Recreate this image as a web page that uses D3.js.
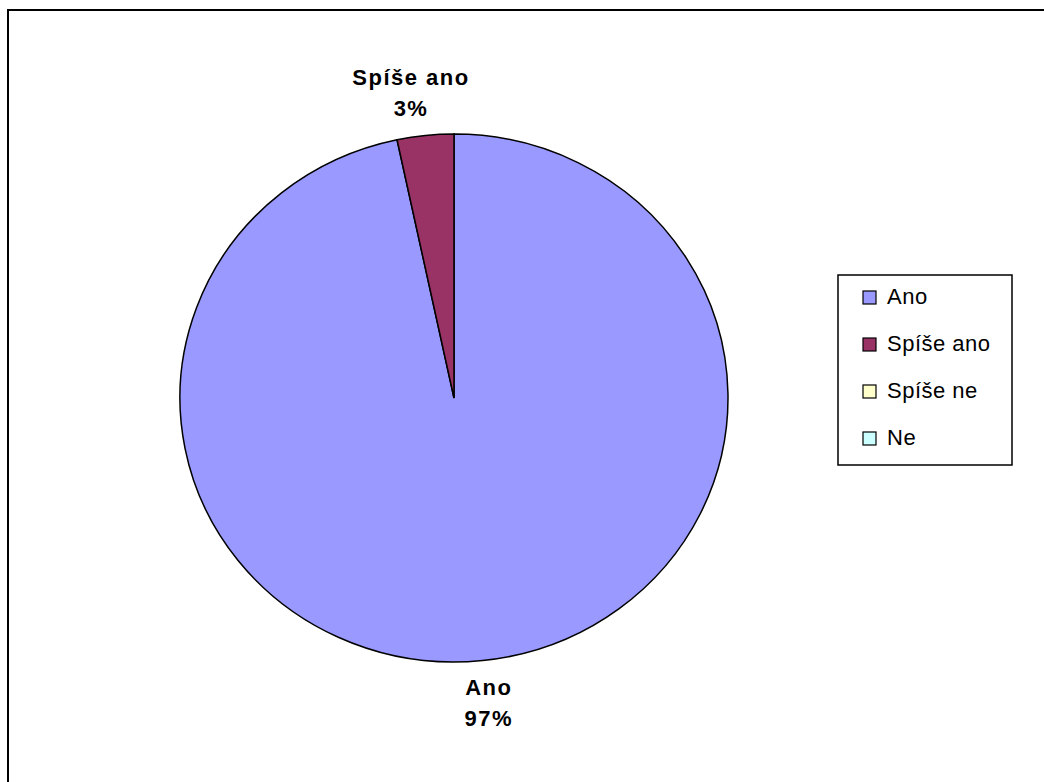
<!DOCTYPE html>
<html>
<head>
<meta charset="utf-8">
<script src="https://cdn.jsdelivr.net/npm/d3@7"></script>
<style>
  body { margin: 0; background: #fff; }
  svg { display: block; font-family: "Liberation Sans", Arial, sans-serif; }
</style>
</head>
<body>
<svg id="chart" width="1044" height="782"></svg>
<script>
// answers (counts): 29 vs 1 -> 97% / 3%
const categories = ['Ano', 'Spíše ano', 'Spíše ne', 'Ne'];
const counts = [29, 1, 0, 0];
const colors = ['#9999FF', '#993366', '#FFFFCC', '#CCFFFF'];

const W = 1044, H = 782;
const cx = 454, cy = 398, rx = 274, ry = 264;

const svg = d3.select('#chart');

// outer frame (only top/left edges fall inside the picture)
svg.append('rect')
    .attr('x', 8).attr('y', 10)
    .attr('width', W + 20).attr('height', H + 20)
    .attr('fill', 'none').attr('stroke', '#000').attr('stroke-width', 2);

const data = categories.map((c, i) => ({ name: c, value: counts[i], color: colors[i] }));
const total = d3.sum(counts);

const pie = d3.pie().sort(null).value(d => d.value);
const arcs = pie(data);
const arc = d3.arc().innerRadius(0).outerRadius(rx);

// excel pies come out slightly squashed, so scale y
const g = svg.append('g')
    .attr('transform', `translate(${cx},${cy}) scale(1,${ry / rx})`);

g.selectAll('path')
  .data(arcs.filter(d => d.value > 0))
  .join('path')
    .attr('d', arc)
    .attr('fill', d => d.data.color)
    .attr('stroke', '#000')
    .attr('stroke-width', 1.5)
    .attr('vector-effect', 'non-scaling-stroke');

// data labels outside the slices
const off = 20, lineGap = 31;
const labels = svg.append('g')
  .selectAll('text')
  .data(arcs.filter(d => d.value > 0))
  .join('text')
    .attr('text-anchor', 'middle')
    .attr('font-size', 22)
    .attr('font-weight', 'bold')
    .attr('letter-spacing', 1.5)
    .attr('fill', '#000');

labels.each(function(d) {
  const el = d3.select(this);
  const a = (d.startAngle + d.endAngle) / 2;
  const pct = Math.round(d.value / total * 100) + '%';
  const w = Math.max(d.data.name.length, pct.length) * 13, h = 46;
  const px = cx + Math.sin(a) * (rx + off);
  const py = cy - Math.cos(a) * (ry + off);
  const lx = px + Math.sin(a) * w;
  const ly = py - Math.cos(a) * h / 2;
  el.append('tspan').attr('x', lx).attr('y', ly - 8).text(d.data.name);
  el.append('tspan').attr('x', lx).attr('y', ly - 8 + lineGap).text(pct);
});

// legend
const legend = svg.append('g').attr('transform', 'translate(838,275)');
legend.append('rect')
    .attr('width', 174).attr('height', 190)
    .attr('fill', '#fff').attr('stroke', '#000').attr('stroke-width', 1.5);

const item = legend.selectAll('g.item')
  .data(data)
  .join('g')
    .attr('class', 'item')
    .attr('transform', (d, i) => `translate(0,${29 + i * 47})`);

item.append('rect')
    .attr('x', 25).attr('y', -13)
    .attr('width', 13).attr('height', 13)
    .attr('fill', d => d.color)
    .attr('stroke', '#000').attr('stroke-width', 1.2);

item.append('text')
    .attr('x', 49).attr('y', 0)
    .attr('font-size', 22)
    .attr('letter-spacing', 0.5)
    .attr('fill', '#000')
    .text(d => d.name);
</script>
</body>
</html>
